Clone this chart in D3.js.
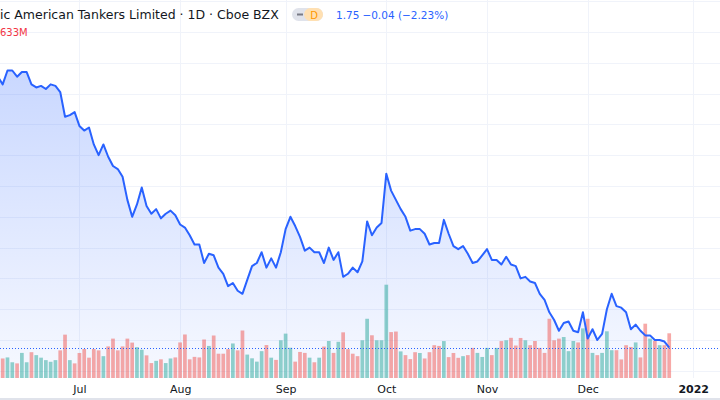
<!DOCTYPE html>
<html>
<head>
<meta charset="utf-8">
<script src="https://cdn.jsdelivr.net/npm/d3@7"></script>
<style>
  html, body { margin: 0; padding: 0; background: #ffffff; }
  svg { display: block; font-family: "DejaVu Sans", sans-serif; }
</style>
</head>
<body>
<svg id="chart" width="720" height="400"></svg>
<script>
// ---- data (trading-day index, daily close in USD) ----
const prices = [
  3.51, 3.46, 3.55, 3.55, 3.51, 3.54, 3.54, 3.46, 3.44, 3.45,
  3.43, 3.46, 3.45, 3.41, 3.25, 3.26, 3.28, 3.19, 3.16, 3.18,
  3.07, 3.00, 3.07, 2.99, 2.93, 2.91, 2.86, 2.71, 2.60, 2.68,
  2.79, 2.67, 2.62, 2.65, 2.59, 2.62, 2.64, 2.61, 2.55, 2.53,
  2.48, 2.42, 2.42, 2.30, 2.36, 2.35, 2.27, 2.23, 2.15, 2.17,
  2.12, 2.10, 2.19, 2.28, 2.30, 2.37, 2.27, 2.33, 2.27, 2.37,
  2.52, 2.60, 2.54, 2.47, 2.38, 2.40, 2.37, 2.37, 2.30, 2.40,
  2.32, 2.37, 2.21, 2.23, 2.27, 2.24, 2.31, 2.57, 2.48, 2.53,
  2.56, 2.88, 2.77, 2.71, 2.65, 2.60, 2.51, 2.52, 2.52, 2.49,
  2.42, 2.43, 2.43, 2.58, 2.49, 2.41, 2.39, 2.41, 2.36, 2.30,
  2.31, 2.35, 2.39, 2.32, 2.32, 2.29, 2.34, 2.29, 2.28, 2.20,
  2.21, 2.18, 2.17, 2.10, 2.06, 1.98, 1.93, 1.86, 1.91, 1.92,
  1.86, 1.85, 1.98, 1.81, 1.87, 1.80, 1.84, 2.00, 2.10, 2.02,
  2.01, 1.98, 1.87, 1.90, 1.86, 1.83, 1.83, 1.80, 1.80, 1.79, 1.75
];
// daily volume, millions of shares
const volumes = [
  2.50, 2.46, 2.59, 1.98, 1.84, 3.16, 1.98, 3.25, 2.88, 2.56,
  2.25, 2.04, 2.25, 3.48, 5.46, 2.25, 1.84, 3.15, 3.65, 2.56,
  3.65, 3.48, 2.75, 3.98, 4.96, 3.48, 3.98, 4.96, 4.46, 3.88,
  3.56, 2.85, 1.88, 2.16, 2.35, 1.88, 2.46, 2.59, 4.48, 5.48,
  2.35, 2.66, 2.59, 4.85, 4.04, 5.35, 3.06, 3.06, 3.63, 4.35,
  3.48, 5.98, 2.95, 2.48, 2.06, 3.38, 4.15, 2.56, 2.28, 4.75,
  5.59, 3.81, 2.06, 3.28, 3.16, 2.56, 1.98, 2.56, 3.96, 4.66,
  3.16, 4.56, 5.75, 3.63, 3.06, 2.75, 4.75, 7.46, 5.38, 4.75,
  4.75, 11.75, 5.78, 5.85, 3.35, 2.88, 2.38, 3.25, 3.15, 2.46,
  3.25, 4.13, 4.04, 4.65, 2.63, 3.15, 2.54, 2.75, 2.88, 3.79,
  3.16, 2.65, 3.79, 2.88, 3.79, 4.65, 4.75, 5.06, 4.09, 5.04,
  4.75, 4.13, 4.66, 3.79, 3.16, 7.46, 4.75, 4.96, 5.16, 3.38,
  4.66, 4.48, 6.25, 7.46, 3.16, 2.88, 3.16, 5.88, 3.50, 3.50,
  2.34, 4.13, 3.91, 4.48, 2.59, 6.84, 4.96, 4.66, 4.13, 4.13, 5.63
];
// candle direction for volume colour: u = up, d = down
const directions = (
  "dduuduuduu" + "uuuddudddd" + "dduddddddu" + "udduduuddd" +
  "dddduddddu" + "dduuuududu" + "uudddududu" + "dudddduudu" +
  "uuddudddud" + "dddudddudd" + "uuudududdd" + "uddddddduu" +
  "udududuuud" + "ddduddududd"
).split("");
const monthTickIndex = [17, 38, 60, 81, 102, 123, 145];
const monthTickLabels = ["Jul", "Aug", "Sep", "Oct", "Nov", "Dec", "2022"];
const priceGrid = [1.6, 1.8, 2.0, 2.2, 2.4, 2.6, 2.8, 3.0, 3.2, 3.4, 3.6, 3.8, 4.0];
const lastPrice = 1.75;
const titleText = "ic American Tankers Limited · 1D · Cboe BZX";
const changeText = "−0.04 (−2.23%)";
const volText = "633M";

// ---- layout ----
const W = 720, H = 400;
const paneBottom = 378;
const svg = d3.select("#chart");

const x = d3.scaleLinear().domain([0, 145]).range([-2.1, 693.2]);
const y = d3.scaleLinear().domain([1.8, 3.8]).range([340, 32]);
const yv = d3.scaleLinear().domain([0, 10]).range([paneBottom, paneBottom - 79.4]);
const step = x(1) - x(0);
const barW = step * 0.77;

const defs = svg.append("defs");
const grad = defs.append("linearGradient")
  .attr("id", "areaGrad").attr("gradientUnits", "userSpaceOnUse")
  .attr("x1", 0).attr("x2", 0)
  .attr("y1", y(d3.max(prices))).attr("y2", paneBottom);
grad.append("stop").attr("offset", 0).attr("stop-color", "rgba(41,98,255,0.25)");
grad.append("stop").attr("offset", 1).attr("stop-color", "rgba(41,98,255,0.04)");

// grid
const grid = svg.append("g");
grid.selectAll("line.h").data(priceGrid).join("line")
  .attr("class", "h")
  .attr("x1", 0).attr("x2", W)
  .attr("y1", d => Math.round(y(d)) + 0.5).attr("y2", d => Math.round(y(d)) + 0.5)
  .attr("stroke", "#f0f3fa").attr("stroke-width", 1);
grid.selectAll("line.v").data(monthTickIndex).join("line")
  .attr("class", "v")
  .attr("y1", 0).attr("y2", paneBottom)
  .attr("x1", d => Math.round(x(d)) + 0.5).attr("x2", d => Math.round(x(d)) + 0.5)
  .attr("stroke", "#f0f3fa").attr("stroke-width", 1);

// area
const area = d3.area()
  .x((d, i) => x(i))
  .y0(paneBottom)
  .y1(d => y(d));
svg.append("path").datum(prices)
  .attr("d", area)
  .attr("fill", "url(#areaGrad)");

// volume bars
svg.append("g").selectAll("rect").data(volumes).join("rect")
  .attr("x", (d, i) => x(i) - barW / 2)
  .attr("width", barW)
  .attr("y", d => yv(d))
  .attr("height", d => paneBottom - yv(d))
  .attr("fill", (d, i) => directions[i] === "u" ? "rgba(38,166,154,0.5)" : "rgba(239,83,80,0.5)");

// price line
const line = d3.line().x((d, i) => x(i)).y(d => y(d));
svg.append("path").datum(prices)
  .attr("d", line)
  .attr("fill", "none")
  .attr("stroke", "#2962ff")
  .attr("stroke-width", 2)
  .attr("stroke-linejoin", "round");

// last price dotted line
svg.append("line")
  .attr("x1", 0).attr("x2", W)
  .attr("y1", Math.round(y(lastPrice)) + 0.5).attr("y2", Math.round(y(lastPrice)) + 0.5)
  .attr("stroke", "#2962ff").attr("stroke-width", 1)
  .attr("stroke-dasharray", "1,2");

// time axis
const axis = d3.axisBottom(x)
  .tickValues(monthTickIndex)
  .tickFormat((d, i) => monthTickLabels[i])
  .tickSize(0).tickPadding(0);
const ax = svg.append("g").attr("transform", `translate(0,${paneBottom + 7})`).call(axis);
ax.select(".domain").remove();
ax.selectAll("text")
  .attr("font-family", "DejaVu Sans, sans-serif")
  .attr("font-size", 11)
  .attr("fill", "#131722")
  .attr("dy", "0.75em")
  .attr("font-weight", (d, i) => monthTickLabels[i] === "2022" ? "bold" : "normal");

svg.append("rect").attr("x", 0).attr("y", 398).attr("width", W).attr("height", 2).attr("fill", "#e0e3eb");

// legend / header
svg.append("text").attr("x", 0).attr("y", 18.5)
  .attr("font-size", 12.5).attr("fill", "#131722").text(titleText);

const pill = svg.append("g");
pill.append("rect").attr("x", 292).attr("y", 8).attr("width", 31).attr("height", 13)
  .attr("rx", 6.5).attr("fill", "#e0e3eb");
pill.append("rect").attr("x", 304).attr("y", 8).attr("width", 19).attr("height", 13)
  .attr("rx", 6.5).attr("fill", "#ffe0b2");
pill.append("rect").attr("x", 297).attr("y", 13.5).attr("width", 6).attr("height", 2)
  .attr("fill", "#787b86");
pill.append("text").attr("x", 314).attr("y", 18.5).attr("text-anchor", "middle")
  .attr("font-size", 10).attr("fill", "#ff9800").text("D");

const pt = svg.append("text").attr("x", 336).attr("y", 18.5)
  .attr("font-size", 10.5).attr("fill", "#2962ff");
pt.append("tspan").text(lastPrice.toFixed(2));
pt.append("tspan").attr("dx", 3).text(changeText);

svg.append("text").attr("x", 0).attr("y", 36)
  .attr("font-size", 10).attr("fill", "#f23645").text(volText);
</script>
</body>
</html>
